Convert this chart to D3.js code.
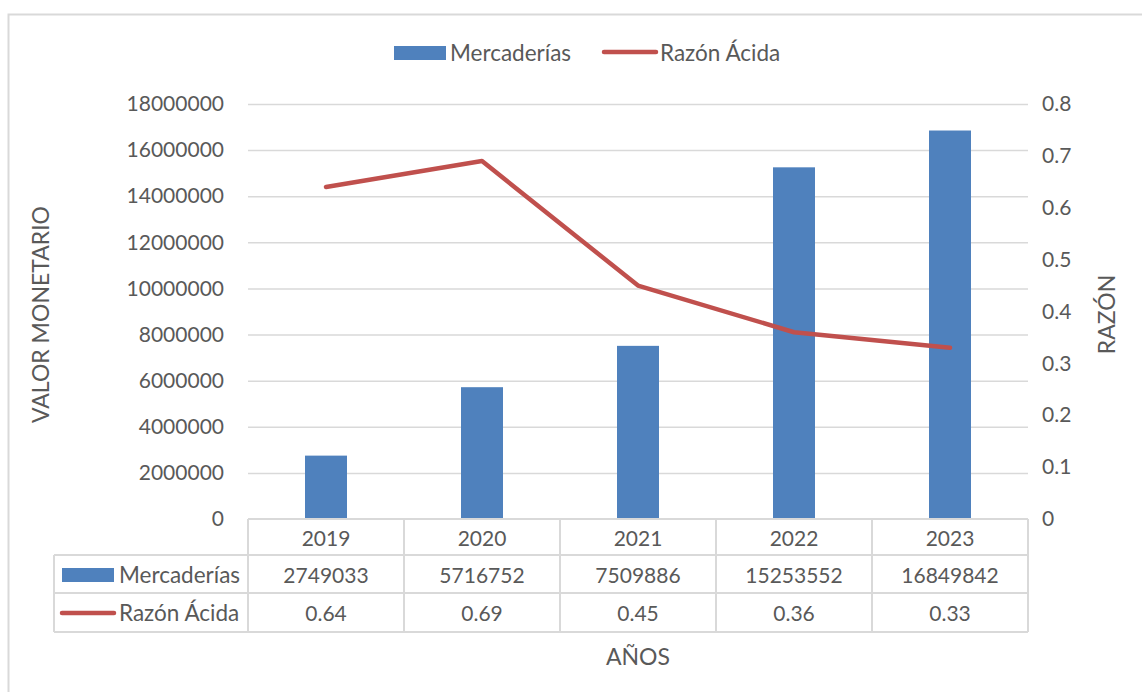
<!DOCTYPE html>
<html>
<head>
<meta charset="utf-8">
<script src="https://cdn.jsdelivr.net/npm/d3@7"></script>
<style>
  body { margin: 0; background: #fff; }
  text { font-family: Lato, "Open Sans", sans-serif; fill: #595959; }
</style>
</head>
<body>
<div id="chart"></div>
<script>
(function(){
  var years = ["2019", "2020", "2021", "2022", "2023"];
  var mercaderias = [2749033, 5716752, 7509886, 15253552, 16849842];
  var razon = [0.64, 0.69, 0.45, 0.36, 0.33];
  var razonLabels = ["0.64", "0.69", "0.45", "0.36", "0.33"];
  var leftTicks = [0, 2000000, 4000000, 6000000, 8000000, 10000000, 12000000, 14000000, 16000000, 18000000];
  var rightTicks = [0, 0.1, 0.2, 0.3, 0.4, 0.5, 0.6, 0.7, 0.8];

  var width = 1142, height = 692;
  var blue = "#4f81bd", red = "#c0504d", grid = "#d9d9d9";
  var left = 248, right = 1028, top = 104, bottom = 519;
  var fs = "21px", fw = "22.5px", ft = "23px";

  var svg = d3.select("#chart").append("svg")
    .attr("width", width).attr("height", height);

  // outer frame
  svg.append("rect")
    .attr("x", 8.5).attr("y", 14.5)
    .attr("width", 1160).attr("height", 700)
    .attr("fill", "none").attr("stroke", grid).attr("stroke-width", 2);

  var x = d3.scaleBand().domain(years).range([left, right]).paddingInner(0).paddingOuter(0);
  var yL = d3.scaleLinear().domain([0, 18000000]).range([bottom, top]);
  var yR = d3.scaleLinear().domain([0, 0.8]).range([bottom, top]);

  // gridlines
  svg.append("g").selectAll("line")
    .data(leftTicks.slice(1))
    .enter().append("line")
    .attr("x1", left).attr("x2", right)
    .attr("y1", function(d){ return yL(d) + 0.5; })
    .attr("y2", function(d){ return yL(d) + 0.5; })
    .attr("stroke", grid).attr("stroke-width", 1.5);

  // left axis
  var axL = svg.append("g")
    .attr("transform", "translate(" + (left - 24) + ",0)")
    .call(d3.axisLeft(yL).tickValues(leftTicks).tickSize(0).tickPadding(0).tickFormat(d3.format("d")));
  axL.select(".domain").remove();
  axL.selectAll("text").style("font-size", fs).attr("fill", "#595959");

  // right axis
  var axR = svg.append("g")
    .attr("transform", "translate(" + (right + 14) + ",0)")
    .call(d3.axisRight(yR).tickValues(rightTicks).tickSize(0).tickPadding(0).tickFormat(function(d){ return d === 0 ? "0" : d3.format(".1f")(d); }));
  axR.select(".domain").remove();
  axR.selectAll("text").style("font-size", fs).attr("fill", "#595959");

  // bars
  var bw = 42;
  svg.selectAll(".bar")
    .data(mercaderias)
    .enter().append("rect")
    .attr("class", "bar")
    .attr("x", function(d, i){ return x(years[i]) + x.bandwidth() / 2 - bw / 2; })
    .attr("y", function(d){ return yL(d); })
    .attr("width", bw)
    .attr("height", function(d){ return yL(0) - yL(d); })
    .attr("fill", blue);

  // line
  var line = d3.line()
    .x(function(d, i){ return x(years[i]) + x.bandwidth() / 2; })
    .y(function(d){ return yR(d); });
  svg.append("path")
    .datum(razon)
    .attr("d", line)
    .attr("fill", "none").attr("stroke", red)
    .attr("stroke-width", 4.5).attr("stroke-linecap", "round").attr("stroke-linejoin", "round");

  // data table
  var r0 = bottom, r1 = 555, r2 = 593, r3 = 632, tLeft = 54;
  var tbl = svg.append("g").attr("stroke", grid).attr("stroke-width", 2).attr("fill", "none");
  tbl.append("line").attr("x1", left).attr("x2", right).attr("y1", r0).attr("y2", r0);
  tbl.append("line").attr("x1", tLeft).attr("x2", right).attr("y1", r1).attr("y2", r1);
  tbl.append("line").attr("x1", tLeft).attr("x2", right).attr("y1", r2).attr("y2", r2);
  tbl.append("line").attr("x1", tLeft).attr("x2", right).attr("y1", r3).attr("y2", r3);
  tbl.append("line").attr("x1", tLeft).attr("x2", tLeft).attr("y1", r1).attr("y2", r3);
  var cols = years.map(function(y){ return x(y); }).concat([right]);
  tbl.selectAll(".vline").data(cols).enter().append("line")
    .attr("x1", function(d){ return d; }).attr("x2", function(d){ return d; })
    .attr("y1", r0).attr("y2", r3);

  function rowText(vals, yc) {
    svg.append("g").selectAll("text")
      .data(vals).enter().append("text")
      .attr("x", function(d, i){ return x(years[i]) + x.bandwidth() / 2; })
      .attr("y", yc)
      .attr("text-anchor", "middle").attr("dominant-baseline", "central")
      .style("font-size", fs)
      .text(function(d){ return d; });
  }
  rowText(years, (r0 + r1) / 2);
  rowText(mercaderias.map(String), (r1 + r2) / 2);
  rowText(razonLabels, (r2 + r3) / 2);

  // table legend keys
  svg.append("rect").attr("x", 62).attr("y", 568).attr("width", 52).attr("height", 14).attr("fill", blue);
  svg.append("text").attr("x", 119).attr("y", (r1 + r2) / 2).attr("dominant-baseline", "central")
    .style("font-size", fw).text("Mercaderías");
  svg.append("line").attr("x1", 62).attr("x2", 114).attr("y1", 613).attr("y2", 613)
    .attr("stroke", red).attr("stroke-width", 4.5).attr("stroke-linecap", "round");
  svg.append("text").attr("x", 119).attr("y", (r2 + r3) / 2).attr("dominant-baseline", "central")
    .style("font-size", fw).text("Razón Ácida");

  // top legend
  svg.append("rect").attr("x", 394).attr("y", 46).attr("width", 52).attr("height", 14).attr("fill", blue);
  svg.append("text").attr("x", 450).attr("y", 52).attr("dominant-baseline", "central")
    .style("font-size", fw).text("Mercaderías");
  svg.append("line").attr("x1", 604).attr("x2", 656).attr("y1", 52).attr("y2", 52)
    .attr("stroke", red).attr("stroke-width", 4.5).attr("stroke-linecap", "round");
  svg.append("text").attr("x", 660).attr("y", 52).attr("dominant-baseline", "central")
    .style("font-size", fw).text("Razón Ácida");

  // axis titles
  svg.append("text")
    .attr("transform", "translate(40," + ((top + bottom) / 2 + 3) + ") rotate(-90)")
    .attr("text-anchor", "middle").attr("dominant-baseline", "central")
    .style("font-size", ft).text("VALOR MONETARIO");
  svg.append("text")
    .attr("transform", "translate(1106," + ((top + bottom) / 2 + 3) + ") rotate(-90)")
    .attr("text-anchor", "middle").attr("dominant-baseline", "central")
    .style("font-size", ft).text("RAZÓN");
  svg.append("text")
    .attr("x", (left + right) / 2).attr("y", 656)
    .attr("text-anchor", "middle").attr("dominant-baseline", "central")
    .style("font-size", ft).text("AÑOS");
})();
</script>
</body>
</html>
